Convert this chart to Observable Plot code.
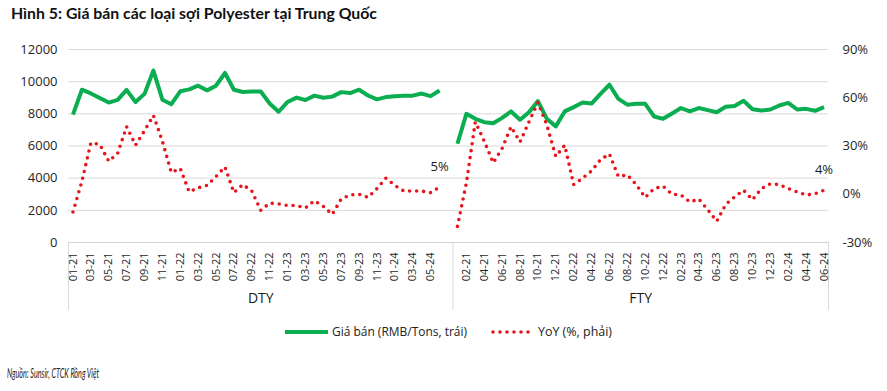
<!DOCTYPE html>
<html><head><meta charset="utf-8">
<script src="https://cdn.jsdelivr.net/npm/d3@7"></script>
<script src="https://cdn.jsdelivr.net/npm/@observablehq/plot@0.6"></script>
<style>
body{margin:0;background:#fff;}
#wrap{position:relative;width:887px;height:391px;overflow:hidden;background:#fff;}
#chart{position:absolute;left:0;top:0;}
.t{position:absolute;white-space:nowrap;line-height:16px;transform-origin:0 50%;color:#1a1a1a;}
#title{left:11px;top:5px;font-family:Lato,"Open Sans",sans-serif;font-weight:700;font-size:16px;color:#111;}
.leg{font-family:"Open Sans",sans-serif;font-size:12.5px;top:324px;color:#222;}
#src{left:7px;top:365px;font-family:Lato,"Open Sans",sans-serif;font-style:italic;font-size:14px;color:#222;}
.sw{position:absolute;}
</style></head><body>
<div id="wrap">
  <div id="chart"></div>
  <div id="title" class="t">Hình 5: Giá bán các loại sợi Polyester tại Trung Quốc</div>
  <svg class="sw" style="left:280px;top:322px" width="60" height="20"><line x1="5" y1="10" x2="48" y2="10" stroke="#0aad50" stroke-width="4"/></svg>
  <div id="leg1" class="t leg" style="left:332px">Giá bán (RMB/Tons, trái)</div>
  <svg class="sw" style="left:488px;top:322px" width="50" height="20"><line x1="5" y1="10" x2="42" y2="10" stroke="#e8141b" stroke-width="3.6" stroke-dasharray="0 7" stroke-linecap="round"/></svg>
  <div id="leg2" class="t leg" style="left:538px">YoY (%, phải)</div>
  <div id="src" class="t">Nguồn: Sunsir, CTCK Rồng Việt</div>
</div>
<script>
const months = ["01-21","02-21","03-21","04-21","05-21","06-21","07-21","08-21","09-21","10-21","11-21","12-21",
"01-22","02-22","03-22","04-22","05-22","06-22","07-22","08-22","09-22","10-22","11-22","12-22",
"01-23","02-23","03-23","04-23","05-23","06-23","07-23","08-23","09-23","10-23","11-23","12-23",
"01-24","02-24","03-24","04-24","05-24","06-24"];
const groups = ["DTY","FTY"];
const dtyPrice = [7950,9500,9270,8980,8700,8870,9490,8730,9240,10690,
8880,8600,9400,9520,9750,9460,9750,10540,9500,9360,
9390,9390,8640,8130,8740,9010,8860,9130,9000,9070,
9350,9290,9500,9140,8900,9040,9100,9120,9130,9260,
9100,9450];
const dtyYoy = [-11,8,32,31,20.5,25.5,42,30.5,39.5,49,
33,13.5,16,1.5,4,5.5,11,17,1,6,
2,-10,-5.5,-6,-7,-7,-8.5,-4,-7.5,-12.5,
-3,-0.5,0,-2,3.5,10,5.5,2,2,2,
1,4.5];
const ftyPrice = [6140,8000,7690,7480,7420,7750,8150,7630,8100,8790,
7690,7220,8150,8420,8700,8640,9245,9810,8930,8570,
8620,8620,7835,7690,8020,8360,8160,8360,8230,8100,
8440,8490,8810,8290,8210,8270,8520,8680,8270,8310,
8190,8415];
const ftyYoy = [-20,7,45,33,19.5,28.5,42,32.5,45,57,
43,23.5,30.5,6,10,14.5,21.5,25,11,12,
6,-2,3.5,5,0,-0.5,-4.8,-3,-9.7,-16.8,
-6.4,-1.7,2.5,-3.4,3.5,6.5,6,3.5,1.5,-0.5,
0.3,2.5];
const lastLabels = ["5%","4%"];
const leftTicks = [0,2000,4000,6000,8000,10000,12000];
const rightTicks = [-30,0,30,60,90];

const n = months.length;
const step = n + 1; // one empty slot between groups
const toLeft = p => (p + 30) * 100; // right axis (-30..90%) onto left (0..12000)

const rows = [];
const series = [[dtyPrice, dtyYoy],[ftyPrice, ftyYoy]];
groups.forEach((g, k) => {
  months.forEach((m, j) => {
    rows.push({g, i: k*step + j, m, price: series[k][0][j], yoy: series[k][1][j]});
  });
});
const lastRows = groups.map((g, k) => ({i: k*step + n - 1, yoy: series[k][1][n-1], label: lastLabels[k]}));
const tickIdx = [];
months.forEach((m, j) => { if (j % 2 === 0) tickIdx.push(j); });
months.forEach((m, j) => { if (j % 2 === 1) tickIdx.push(step + j); });
const tickLabel = i => i < step ? months[i] : months[i - step];
const bounds = [-0.5, step - 0.5, 2*step - 1.5];
const groupCenters = groups.map((g, k) => ({g, x: (bounds[k] + bounds[k+1]) / 2}));

const plot = Plot.plot({
  width: 887, height: 391,
  marginLeft: 68, marginRight: 59, marginTop: 49, marginBottom: 149,
  x: {type: "linear", domain: [bounds[0], bounds[2]]},
  y: {domain: [0, 12000]},
  style: {fontFamily: "'Open Sans', sans-serif", fontSize: "13px", color: "#262626", background: "white", overflow: "visible"},
  marks: [
    Plot.ruleY(leftTicks.filter(v => v > 0), {stroke: "#d9d9d9", strokeWidth: 1, strokeOpacity: 1}),
    Plot.ruleY([0], {stroke: "#d0d0d0", strokeWidth: 1, strokeOpacity: 1}),
    Plot.ruleX(bounds, {stroke: "#d9d9d9", strokeWidth: 1, strokeOpacity: 1, insetTop: 193, insetBottom: -68}),
    Plot.axisY({anchor: "left", ticks: leftTicks, tickSize: 0, tickPadding: 11, label: null, tickFormat: d => String(d), fontSize: 13}),
    Plot.axisY({anchor: "right", ticks: rightTicks.map(toLeft), tickSize: 0, tickPadding: 14, label: null,
      tickFormat: v => `${Math.round(v/100 - 30)}%`, fontSize: 13}),
    Plot.axisX({ticks: tickIdx, tickFormat: tickLabel, tickRotate: -90, tickSize: 0, tickPadding: 10, label: null, fontSize: 11}),
    Plot.text(groupCenters, {x: "x", text: "g", frameAnchor: "bottom", dy: 60, fontSize: 14, fill: "#1a1a1a"}),
    Plot.line(rows, {x: "i", y: "price", z: "g", stroke: "#0aad50", strokeWidth: 4, strokeLinejoin: "round", strokeLinecap: "butt"}),
    Plot.line(rows, {x: "i", y: d => toLeft(d.yoy), z: "g", stroke: "#e8141b", strokeWidth: 3.6, strokeDasharray: "0 7", strokeLinecap: "round", strokeLinejoin: "round"}),
    Plot.text(lastRows, {x: "i", y: d => toLeft(d.yoy), text: "label", dy: -20, fontSize: 13, fill: "#1a1a1a"})
  ]
});
document.getElementById("chart").appendChild(plot);

function fit(id, w) {
  const el = document.getElementById(id);
  el.style.transform = "none";
  const r = el.getBoundingClientRect().width;
  if (r > 0) el.style.transform = `scaleX(${w / r})`;
}
function fitAll() {
  fit("title", 366);
  fit("leg1", 135);
  fit("leg2", 74);
  fit("src", 92);
}
fitAll();
if (document.fonts && document.fonts.ready) document.fonts.ready.then(fitAll);
</script>
</body></html>
